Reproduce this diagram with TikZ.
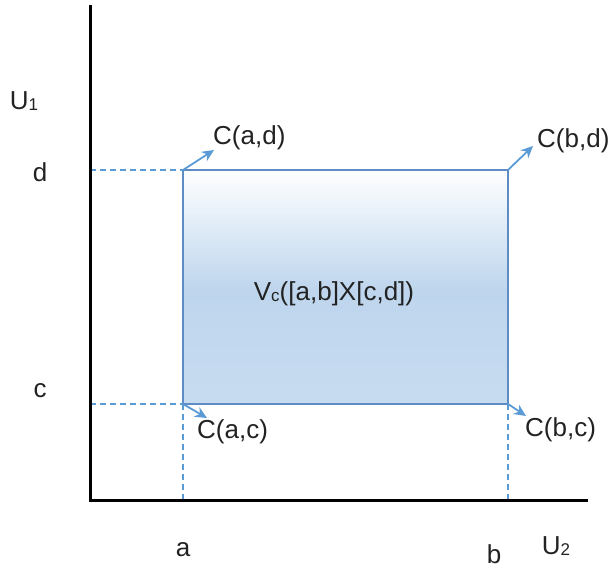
\documentclass[tikz,border=0pt]{standalone}
\usepackage{fontspec}
\setmainfont{Liberation Sans}
\usetikzlibrary{arrows.meta}
\definecolor{lineblue}{HTML}{5B9BD5}
\definecolor{rectblue}{HTML}{5D8DC4}
\definecolor{fillblue}{HTML}{B2CEEA}
\definecolor{txt}{HTML}{222222}
\tikzset{
  lbl/.style={text=txt, font=\fontsize{26}{29}\selectfont, inner sep=0pt},
  guide/.style={lineblue, line width=1.2pt, dash pattern=on 6pt off 4pt},
  corner/.style={lineblue, line width=1.8pt, -{Stealth[length=12pt,width=11pt]}},
  axis/.style={black, line width=3pt},
}
\newcommand{\smallsub}[1]{\raisebox{-0.5pt}{\fontsize{17}{18}\selectfont #1}}
\begin{document}
\begin{tikzpicture}[x=1pt,y=-1pt]
\useasboundingbox (0,0) rectangle (611,569);
% coordinates
\coordinate (O) at (90,500);
\coordinate (Ytop) at (90,5);
\coordinate (Xend) at (588,500);
\coordinate (ad) at (183,170);
\coordinate (bd) at (508,170);
\coordinate (ac) at (183,404);
\coordinate (bc) at (508,404);
\coordinate (yd) at (90,170);
\coordinate (yc) at (90,404);
\coordinate (xa) at (183,500);
\coordinate (xb) at (508,500);
% rectangle
\shade[top color=white, bottom color=fillblue!85] (183,170) rectangle (508,290);
\shade[top color=fillblue!85, bottom color=fillblue!72] (183,289.5) rectangle (508,404);
\draw[rectblue, line width=1.5pt] (ad) rectangle (bc);
% guides
\draw[guide] (yd) -- (ad);
\draw[guide] (yc) -- (ac);
\draw[guide] (ac) -- (xa);
\draw[guide] (bc) -- (xb);
% axes
\draw[axis] (Ytop) -- (O) -- (Xend);
% corner labels
\node[lbl, anchor=west] (Cad) at (213,138) {C(a,d)};
\node[lbl, anchor=west] (Cbd) at (537,141) {C(b,d)};
\node[lbl, anchor=west] (Cac) at (197,432) {C(a,c)};
\node[lbl, anchor=west] (Cbc) at (525,430) {C(b,c)};
\coordinate (tad) at (214,150);
\coordinate (tbd) at (533,146);
\coordinate (tac) at (207,418);
\coordinate (tbc) at (526,416);
\draw[corner] (ad) -- (tad);
\draw[corner] (bd) -- (tbd);
\draw[corner] (ac) -- (tac);
\draw[corner] (bc) -- (tbc);
% axis labels
\node[lbl] (U1) at (24,101) {U\smallsub{1}};
\node[lbl] (d) at (40,172) {d};
\node[lbl] (c) at (40,391) {c};
\node[lbl] (a) at (183,550) {a};
\node[lbl] (b) at (494,554) {b};
\node[lbl] (U2) at (556,546) {U\smallsub{2}};
\node[lbl] (V) at (334,294) {V\smallsub{c}([a,b]X[c,d])};
\end{tikzpicture}
\end{document}
